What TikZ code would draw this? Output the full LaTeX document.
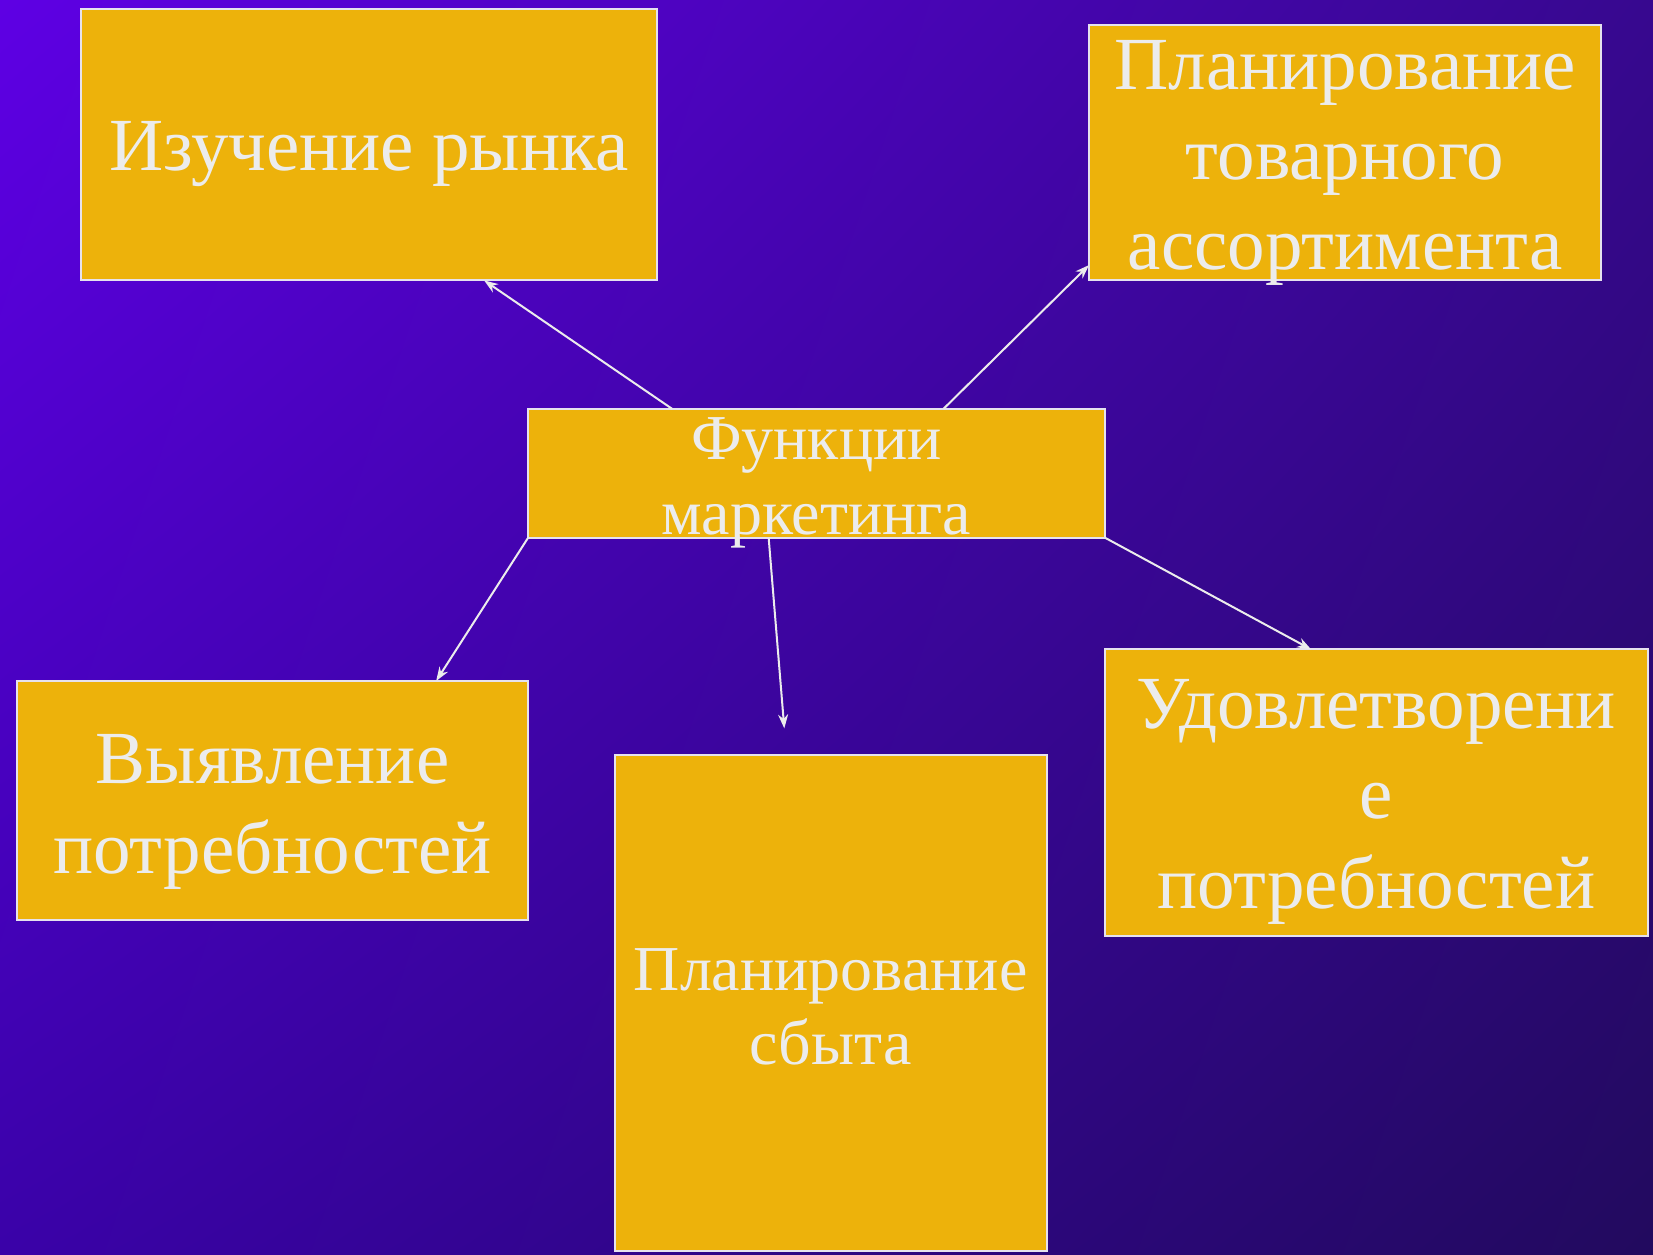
\documentclass[tikz,border=0pt]{standalone}
\usepackage{fontspec}
\setmainfont{Liberation Serif}
\usetikzlibrary{positioning,calc,arrows.meta,shadings}
\definecolor{bgtl}{HTML}{5E00E4}
\definecolor{bgtr}{HTML}{37088F}
\definecolor{bgbl}{HTML}{3A02A8}
\definecolor{bgbr}{HTML}{220A5E}
\definecolor{boxfill}{HTML}{EDB20B}
\definecolor{boxline}{HTML}{E6E2EE}
\definecolor{boxtext}{HTML}{ECECEC}
\tikzset{>={Stealth[length=7pt,width=5pt]},
box/.style={draw=boxline,line width=1pt,fill=boxfill,text=boxtext,align=center,inner sep=0pt,outer sep=0pt}, % every yellow box
bigtext/.style={font=\fontsize{37.5}{45}\selectfont},
wire/.style={->,draw=boxtext,line width=1pt}
}
\begin{document}
\begin{tikzpicture}
    % background
    \shade[upper left=bgtl,upper right=bgtr,lower left=bgbl,lower right=bgbr]
        (-408.25pt,-390.35pt) rectangle (418.25pt,236.65pt);

    \node[box,minimum width=288.3pt,minimum height=64.3pt,
          label={[text=boxtext,align=center,font=\fontsize{32}{37.5}\selectfont,yshift=-5pt]center:{Функции\\маркетинга}}] (fn) at (0,0) {};
    \node[box,bigtext,text height=34pt,minimum width=287.8pt,minimum height=135.5pt,above left=64.3pt and -64.3pt of fn] (iz) {Изучение рынка};
    \node[box,bigtext,text height=117pt,text depth=0pt,minimum width=256.2pt,minimum height=127.6pt,above right=64.3pt and -7.9pt of fn] (as) {Планирование\\товарного\\ассортимента};
    \node[box,bigtext,text height=81pt,minimum width=255.7pt,minimum height=119.7pt,below left=71.7pt and 0pt of fn] (vy) {Выявление\\потребностей};
    \node[box,font=\fontsize{32}{37}\selectfont,text height=62pt,minimum width=216.1pt,minimum height=248.3pt,below=108.6pt of fn,xshift=7.1pt] (sb) {Планирование\\сбыта};
    \node[box,bigtext,text height=124pt,minimum width=271.5pt,minimum height=143.4pt,below right=55.9pt and 0pt of fn] (ud) {Удовлетворени\\е\\потребностей};
    \coordinate[above left=13.2pt and 23.2pt of sb.north] (sbtip);

    \draw[wire] ($(fn.north west)!0.25!(fn.north east)$) -- ($(iz.south west)!0.7!(iz.south east)$);
    \draw[wire] ($(fn.north west)!0.72!(fn.north east)$) -- ($(as.north west)!0.94!(as.south west)$);
    \draw[wire] (fn.south west) -- ($(vy.north west)!0.82!(vy.north east)$);
    \draw[wire] ($(fn.south west)!0.417!(fn.south east)$) -- (sbtip);
    \draw[wire] (fn.south east) -- ($(ud.north west)!0.38!(ud.north east)$);
\end{tikzpicture}
\end{document}
